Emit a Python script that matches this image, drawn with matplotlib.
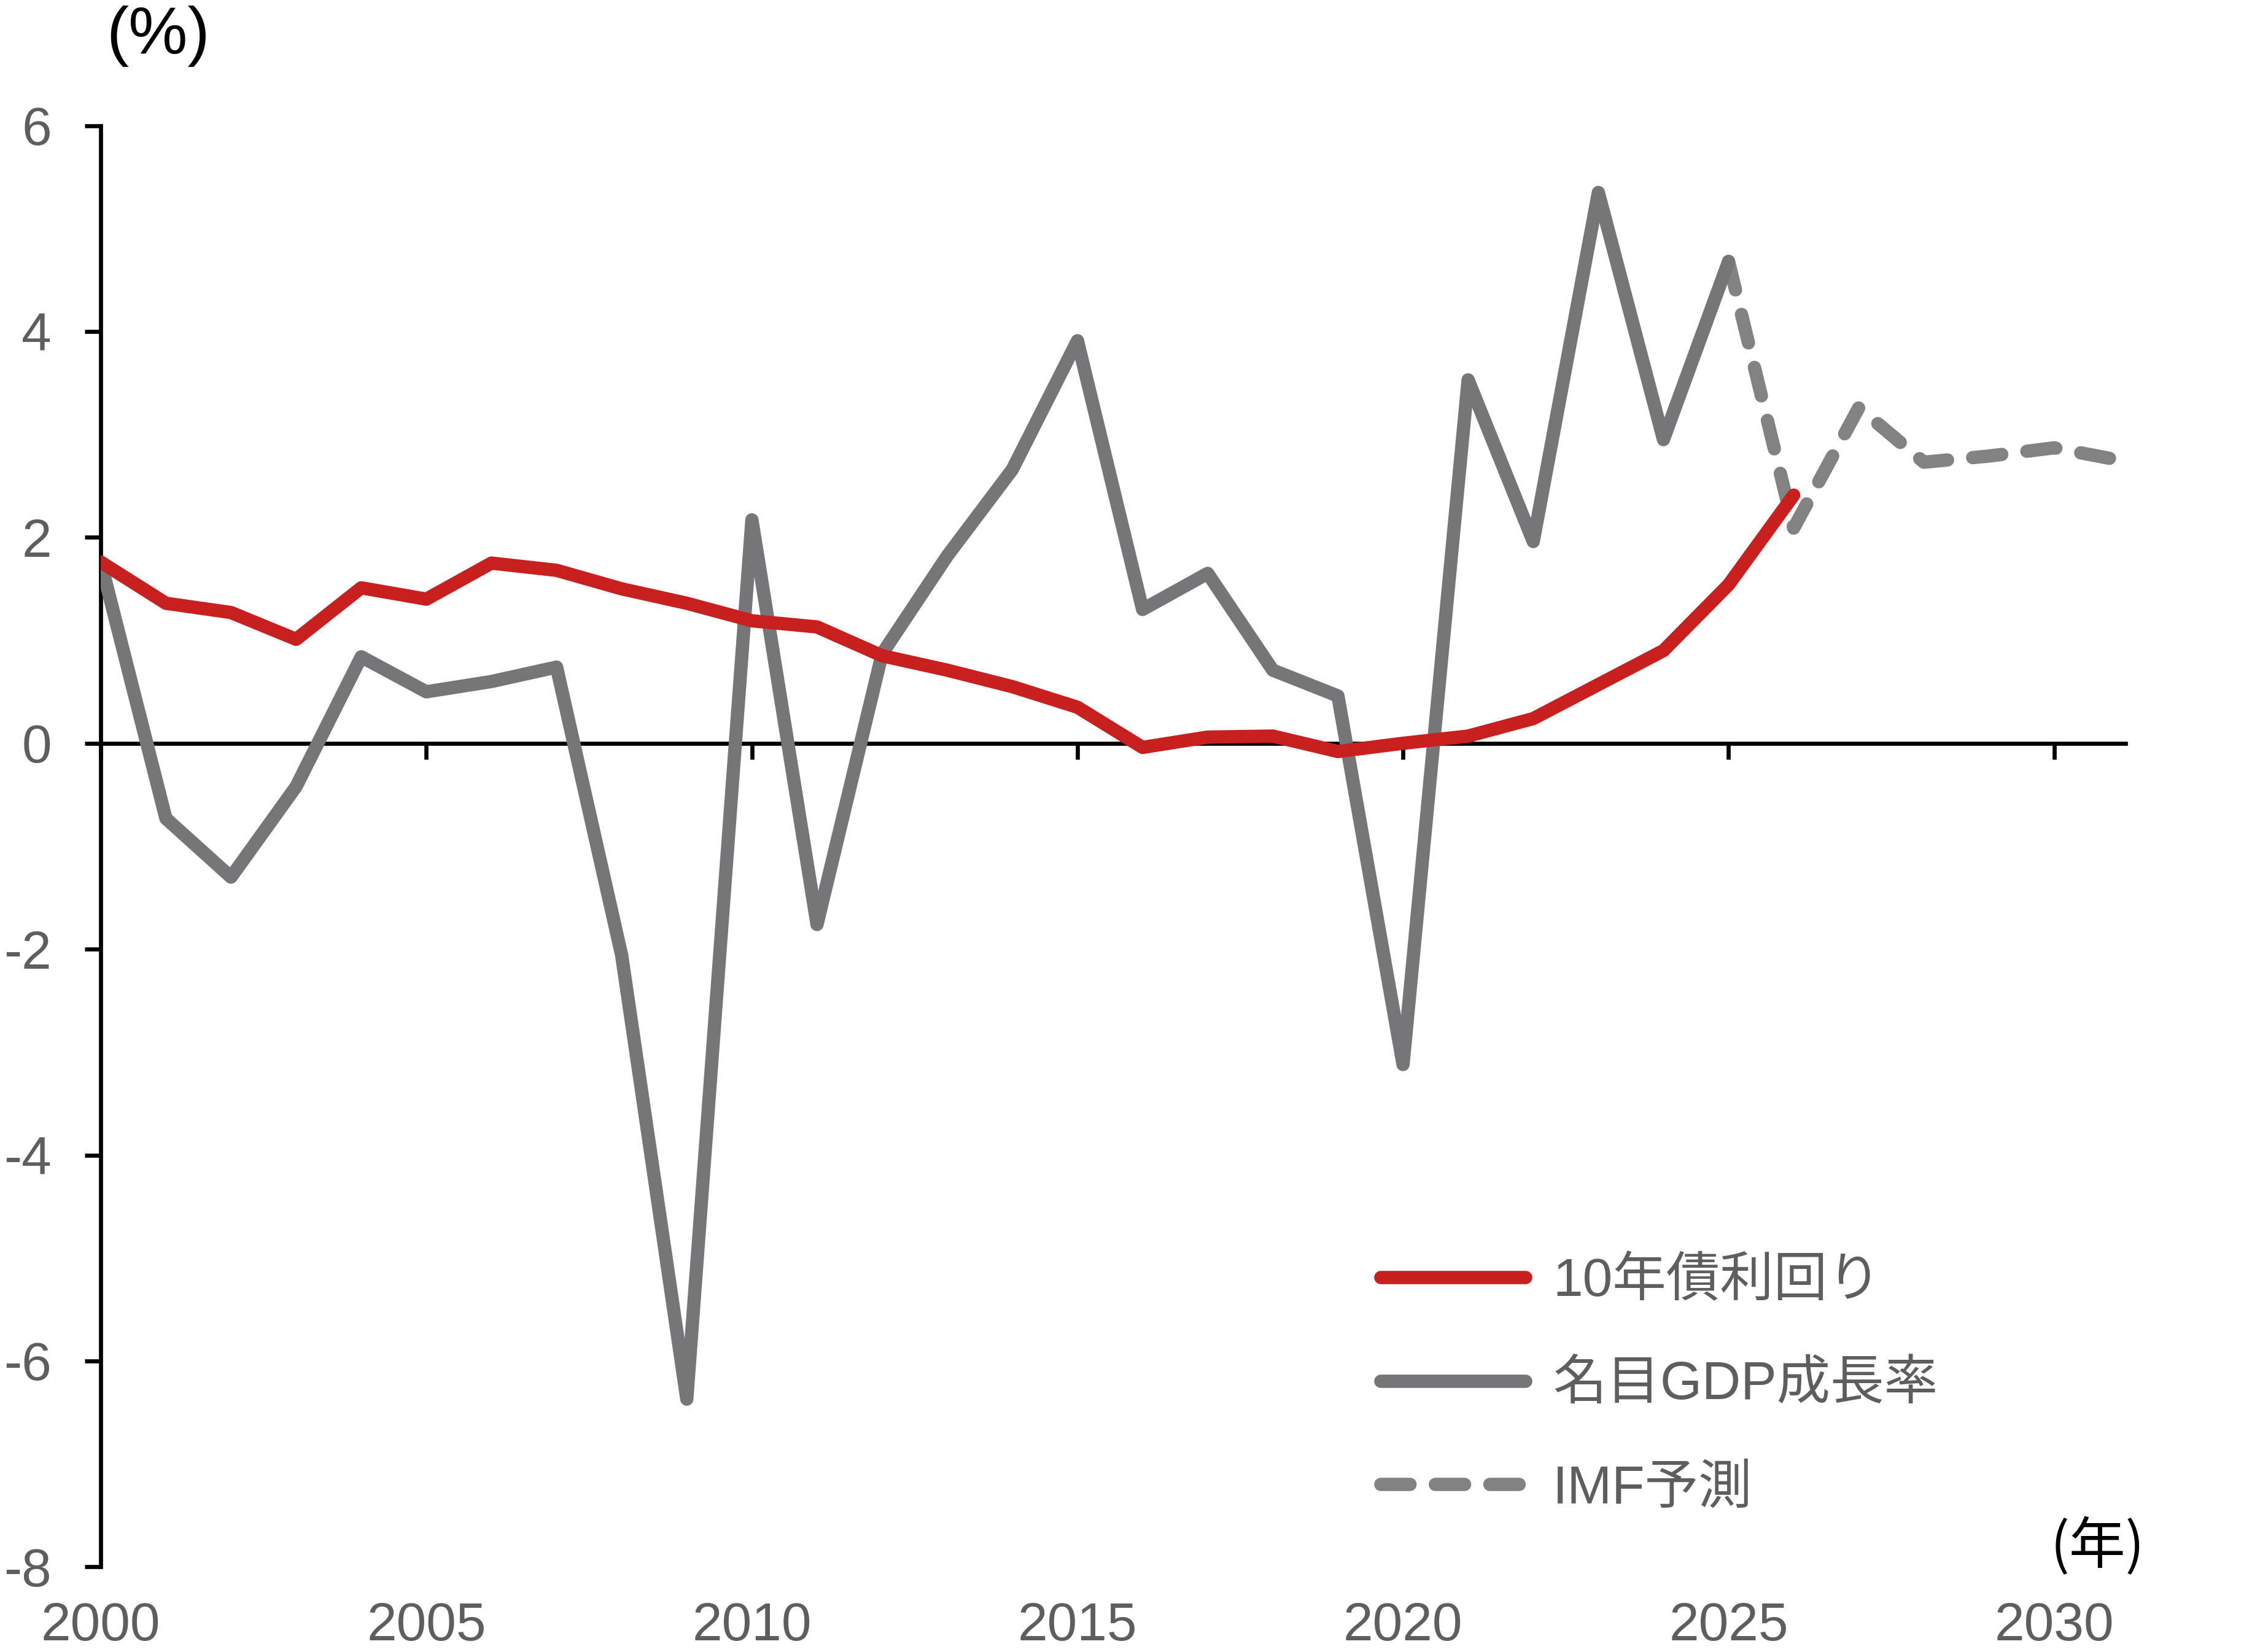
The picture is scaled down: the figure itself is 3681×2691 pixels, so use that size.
import matplotlib
matplotlib.use("Agg")
import matplotlib.pyplot as plt
import matplotlib.transforms as mtransforms
from matplotlib.lines import Line2D

plt.rcParams['font.family'] = ['Liberation Sans', 'Noto Sans CJK JP', 'DejaVu Sans']

# 10年債利回り (2000-2026)
bond_years = list(range(2000, 2027))
bond_yield = [1.76, 1.36, 1.27, 1.01, 1.51, 1.40, 1.75, 1.68, 1.50, 1.36,
              1.19, 1.13, 0.85, 0.71, 0.55, 0.35, -0.04, 0.06, 0.07, -0.08,
              0.00, 0.07, 0.24, 0.57, 0.90, 1.54, 2.41]

# 名目GDP成長率 (2000-2025 実績)
gdp_years = list(range(2000, 2026))
gdp_growth = [1.76, -0.73, -1.30, -0.42, 0.84, 0.50, 0.60, 0.74, -2.06, -6.37,
              2.17, -1.76, 0.87, 1.82, 2.66, 3.91, 1.30, 1.65, 0.71, 0.46,
              -3.12, 3.53, 1.96, 5.35, 2.95, 4.68]

# IMF予測 (2025-2031)
imf_years = list(range(2025, 2032))
imf_growth = [4.68, 2.09, 3.26, 2.73, 2.79, 2.87, 2.75]

y_ticks = [6, 4, 2, 0, -2, -4, -6, -8]
x_ticks = [2000, 2005, 2010, 2015, 2020, 2025, 2030]

red = '#C8201E'
gray = '#767678'
gray_dash = '#828282'
label_gray = '#5E5E5E'

fig = plt.figure(figsize=(12.27, 8.97), dpi=300)
ax = fig.add_axes([0.0446, 0.0515, 0.896, 0.8725])

lw = 5.2
dash = (2.2, 1.9)
ax.plot(imf_years, imf_growth, color=gray_dash, lw=lw, dashes=dash,
        dash_capstyle='round', dash_joinstyle='round', zorder=2)
ax.plot(gdp_years, gdp_growth, color=gray, lw=lw, solid_joinstyle='round',
        solid_capstyle='round', zorder=3)
ax.plot(bond_years, bond_yield, color=red, lw=lw, solid_capstyle='round',
        solid_joinstyle='round', zorder=4)

ax.set_xlim(2000, 2031.1)
ax.set_ylim(-8, 6)

for s in ['top', 'right']:
    ax.spines[s].set_visible(False)
ax.spines['bottom'].set_position(('data', 0))
ax.spines['left'].set_linewidth(1.6)
ax.spines['bottom'].set_linewidth(1.6)

ax.set_yticks(y_ticks)
ax.set_yticklabels([str(v) for v in y_ticks])
ax.tick_params(axis='y', direction='out', length=6.2, width=1.6, pad=13,
               labelsize=21, labelcolor=label_gray)
ax.set_xticks(x_ticks)
ax.set_xticklabels([''] * len(x_ticks))
ax.tick_params(axis='x', direction='out', length=6.2, width=1.6)

# 年ラベルは図の下端に並べる
trans = mtransforms.blended_transform_factory(ax.transData, fig.transFigure)
for yr in x_ticks:
    ax.text(yr, 0.0005, str(yr), transform=trans, ha='center', va='bottom',
            fontsize=21, color=label_gray, clip_on=False)

fig.text(0.070, 0.978, '(%)', ha='center', va='center', fontsize=26, color='black')
fig.text(0.928, 0.0635, '(年)', ha='center', va='center', fontsize=22,
         color='black', family=['Noto Sans CJK JP', 'DejaVu Sans'])

handles = [
    Line2D([], [], color=red, lw=lw, solid_capstyle='round'),
    Line2D([], [], color=gray, lw=lw, solid_capstyle='round'),
    Line2D([], [], color=gray_dash, lw=lw, dashes=dash, dash_capstyle='round'),
]
labels = ['10年債利回り', '名目GDP成長率', 'IMF予測']
leg = fig.legend(handles, labels, loc='upper left', bbox_to_anchor=(0.611, 0.239),
                 frameon=False, fontsize=21, handlelength=2.7, handletextpad=0.5,
                 labelspacing=1.0, borderpad=0, borderaxespad=0)
for t in leg.get_texts():
    t.set_color(label_gray)

fig.savefig('out.png', dpi=300)
